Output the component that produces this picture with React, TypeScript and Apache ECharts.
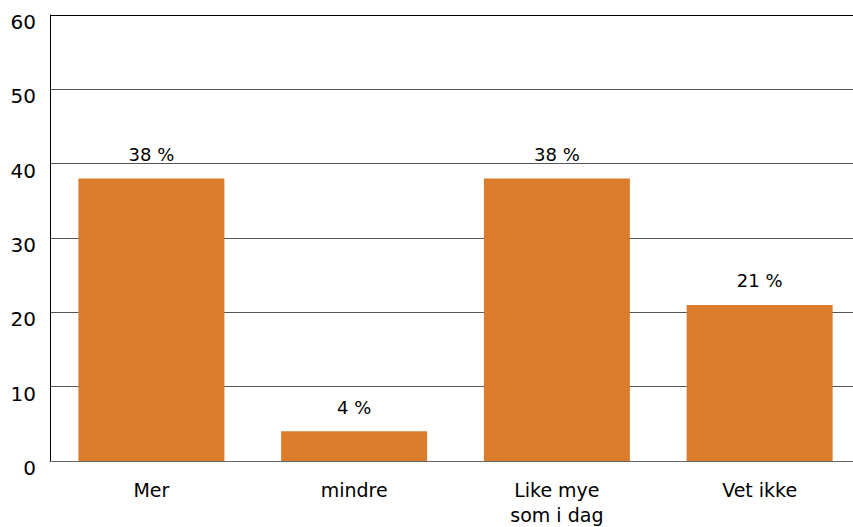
import React, { useEffect, useRef } from "react";
import * as echarts from "echarts";

const categories = ["Mer", "mindre", "Like mye\nsom i dag", "Vet ikke"];
const values = [38, 4, 38, 21];
const yTicks = [0, 10, 20, 30, 40, 50, 60];

export default function App() {
  const ref = useRef<HTMLDivElement>(null);
  useEffect(() => {
    const chart = echarts.init(ref.current!, null, { renderer: "svg" });
    chart.setOption({
      animation: false,
      grid: { left: 50, right: 0, top: 15, bottom: 65, containLabel: false },
      xAxis: {
        type: "category",
        data: categories,
        axisLine: { lineStyle: { color: "#666", width: 1 } },
        axisTick: { show: false },
        axisLabel: {
          color: "#000",
          fontFamily: "DejaVu Sans",
          fontSize: 19,
          lineHeight: 25,
          margin: 16,
          interval: 0,
        },
      },
      yAxis: {
        type: "value",
        min: yTicks[0],
        max: yTicks[yTicks.length - 1],
        interval: 10,
        axisLine: { show: true, lineStyle: { color: "#000", width: 1 } },
        axisTick: { show: false },
        axisLabel: {
          color: "#000",
          fontFamily: "DejaVu Sans",
          fontSize: 20,
          margin: 14,
          verticalAlign: "top",
          lineHeight: 14,
        },
        splitLine: {
          lineStyle: {
            color: ["#666", "#555", "#555", "#555", "#555", "#555", "#000"],
            width: 1,
          },
        },
      },
      series: [
        {
          type: "bar",
          data: values,
          barWidth: 146,
          itemStyle: { color: "#DA7C2C" },
          label: {
            show: true,
            position: "top",
            distance: 15,
            formatter: "{c} %",
            color: "#000",
            fontFamily: "DejaVu Sans",
            fontSize: 18,
          },
        },
      ],
    });
    return () => chart.dispose();
  }, []);
  return (
    <div
      style={{
        position: "fixed",
        left: 0,
        top: 0,
        width: 853,
        height: 527,
        overflow: "hidden",
        background: "#fff",
      }}
    >
      <div ref={ref} style={{ width: 861, height: 527 }} />
    </div>
  );
}
